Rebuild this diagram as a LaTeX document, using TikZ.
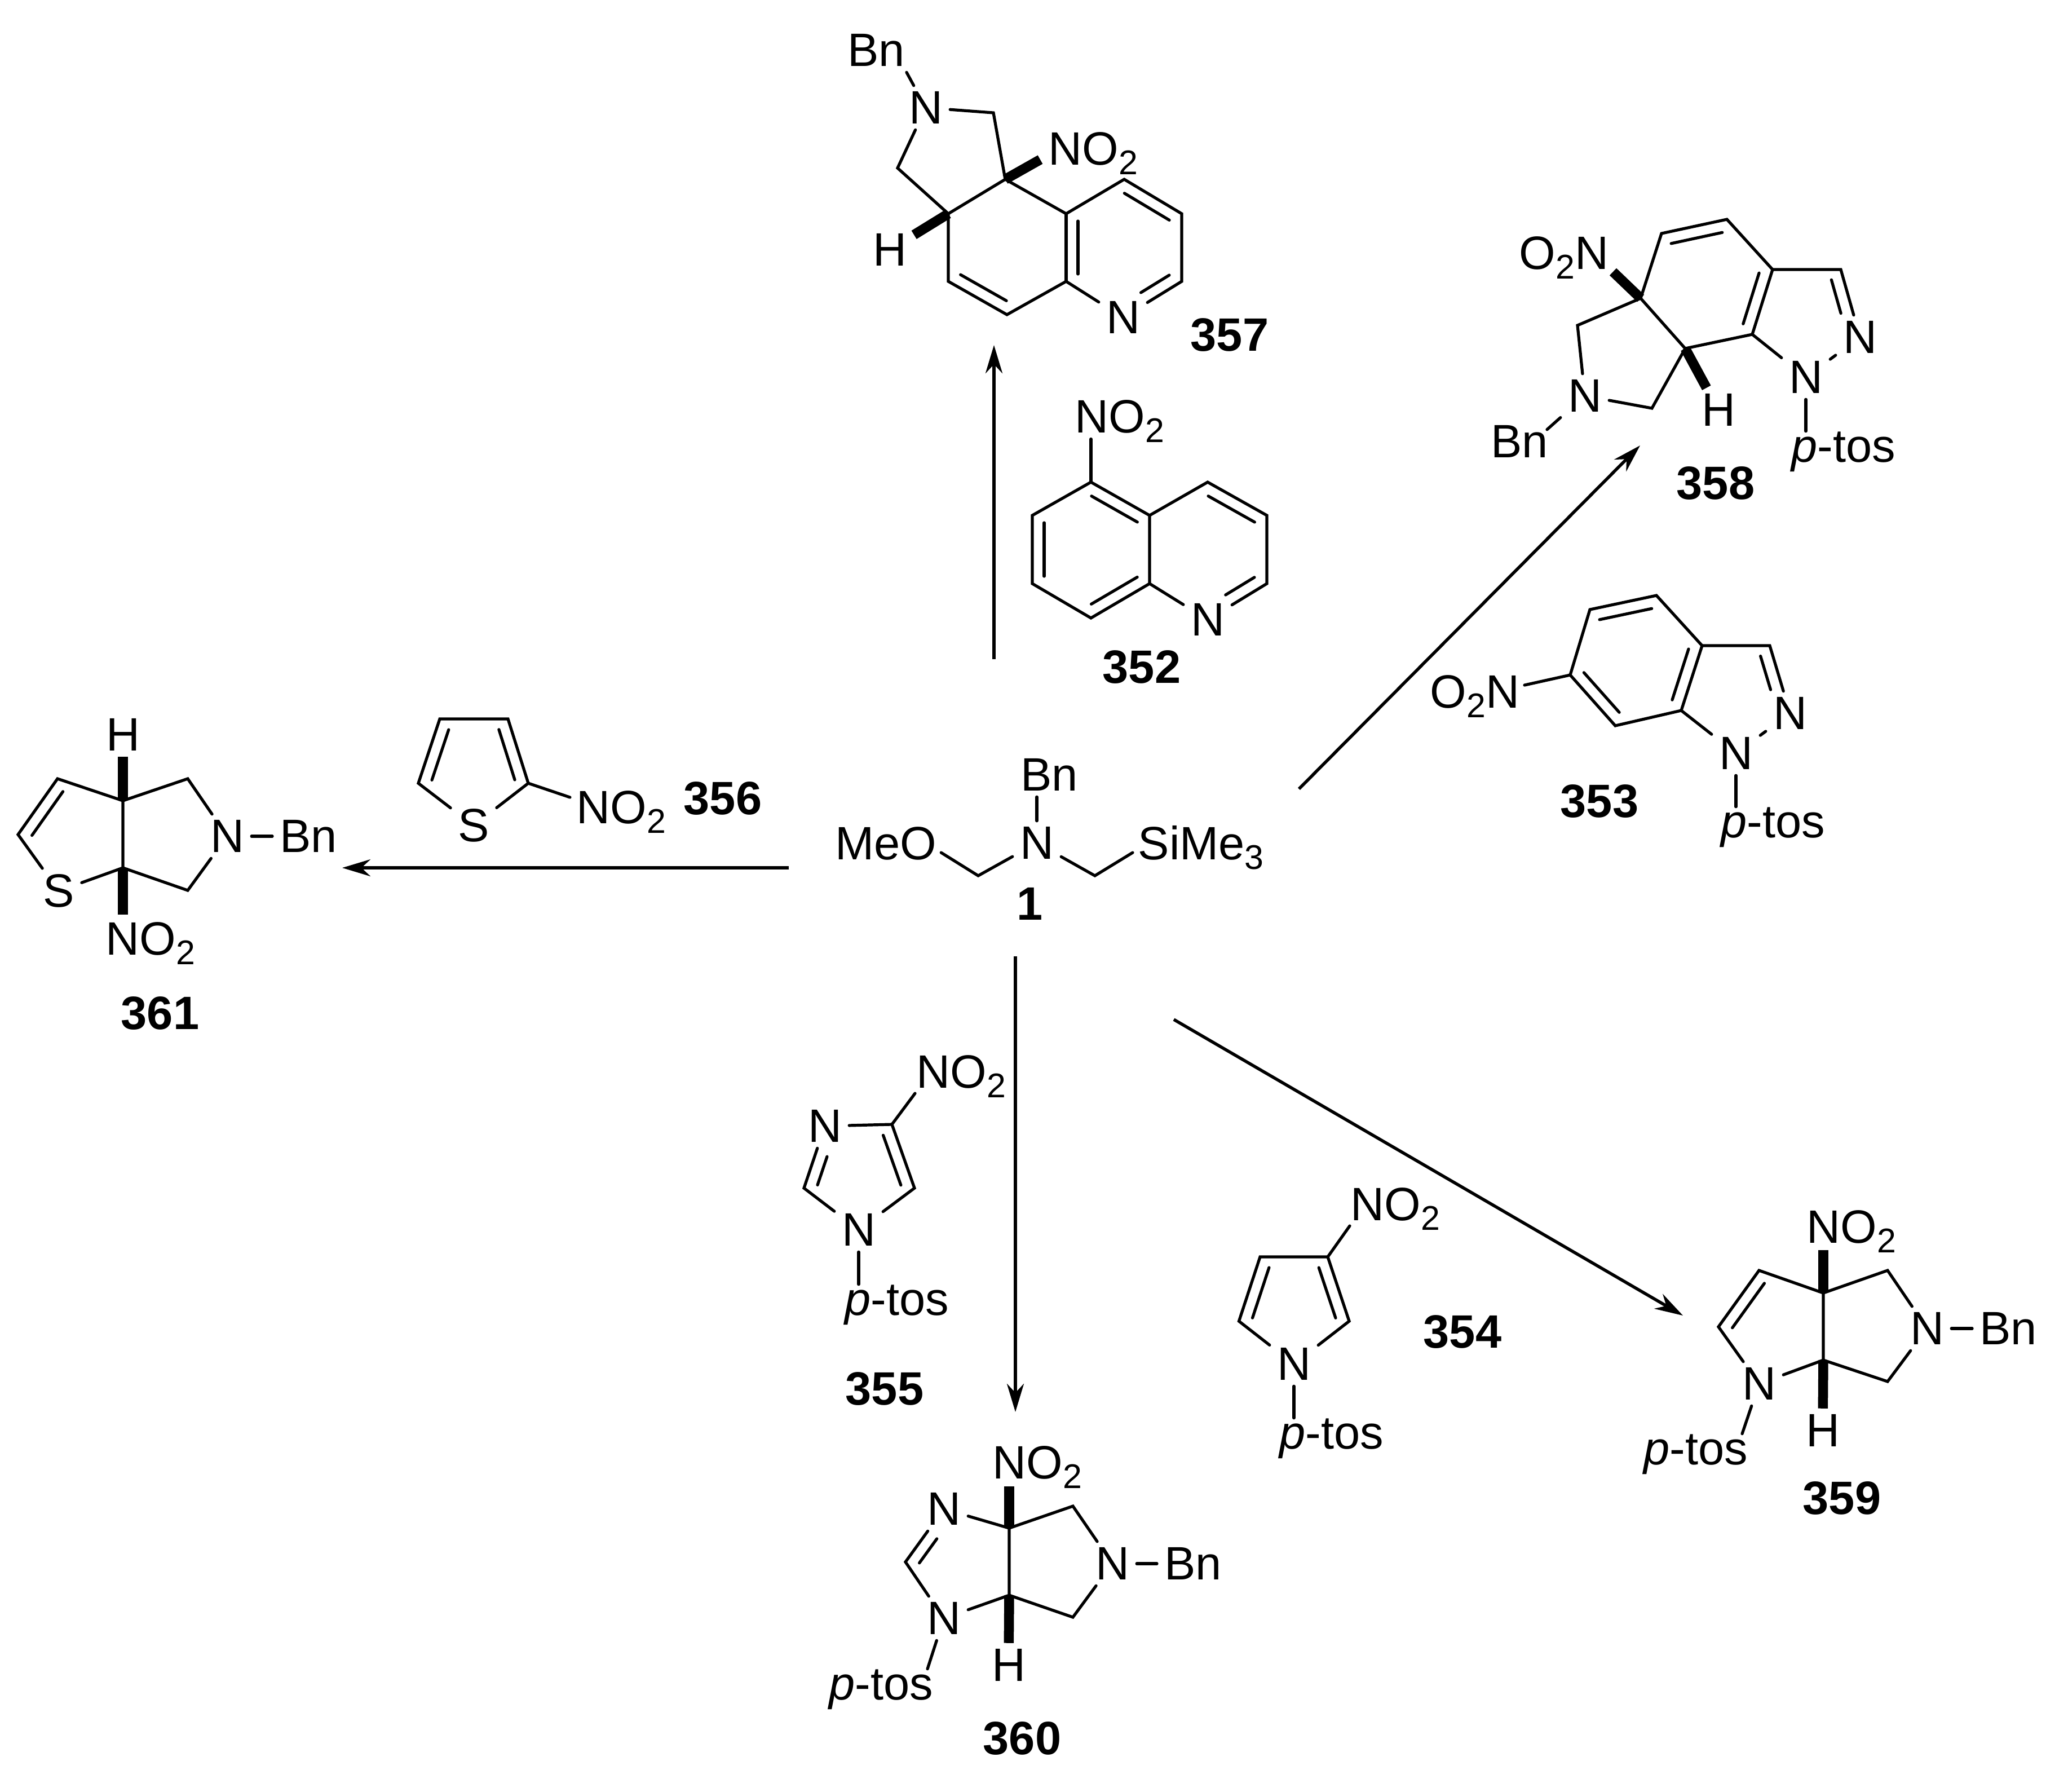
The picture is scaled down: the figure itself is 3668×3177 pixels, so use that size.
\documentclass[tikz,border=0pt]{standalone}
\usepackage{fontspec}
\setmainfont{Liberation Sans}
\usetikzlibrary{arrows.meta, calc}

\newcommand{\subscr}[1]{\raisebox{-0.17cm}{\fontsize{17.3}{20}\selectfont #1}}
\newcommand{\ptos}{\textit{p}-tos}
% Second line of a double bond, on the left of the direction #2 to #3
\newcommand{\innerbond}[3][]{\draw[innerline, #1] ($(#2)!0.21cm!90:(#3)$) -- ($(#3)!0.21cm!-90:(#2)$);}

\begin{document}
\begin{tikzpicture}[
    x=0.01cm, y=-0.01cm, % Coordinates in pixels of the scheme
    every node/.style={font=\fontsize{23.6}{28}\selectfont},
    % Styles
    atom/.style={ % Single label in a ring or chain
        inner xsep=0.125cm,
        inner ysep=0.1cm
    },
    subst/.style={ % Longer label, placed on its baseline
        inner sep=0pt,
        anchor=base west
    },
    compound/.style={ % Compound number
        inner sep=0pt,
        font=\fontsize{23.6}{28}\selectfont\bfseries
    },
    bond/.style={
        line width=0.052cm,
        line cap=round,
        line join=miter
    },
    innerline/.style={
        bond,
        shorten <=0.13cm,
        shorten >=0.13cm
    },
    solidbond/.style={ % Bold stereo bond
        line width=0.175cm
    },
    arrow/.style={
        -{Stealth[length=0.5cm,width=0.3cm,inset=0.16cm]},
        line width=0.055cm
    }
]
    \useasboundingbox (0,0) rectangle (3668,3177);

    % Reagent 1
    \node[atom] (n1) at (1839,1495) {N};
    \node[atom] (bn1) at (1861,1374) {Bn};
    \node[subst] (meo1) at (1481,1524) {MeO};
    \node[subst] (si1) at (2018,1524) {SiMe\subscr{3}};
    \node[compound] (l1) at (1827,1603) {1};
    \coordinate (a1) at (1735,1553);
    \coordinate (b1) at (1942,1553);
    \draw[bond] ([shift={(7,-12)}]meo1.base east) -- (a1) -- (n1) -- (b1) -- ([shift={(-9,-12)}]si1.base west);
    \draw[bond] (n1) -- (n1 |- bn1.south);

    % Reaction arrows
    \coordinate (s357) at (1763,1169);
    \coordinate (e357) at (1763,612);
    \coordinate (s358) at (2304,1399);
    \coordinate (e358) at (2909,790);
    \coordinate (s359) at (2082,1808);
    \coordinate (e359) at (2985,2333);
    \coordinate (s360) at (1801,1696);
    \coordinate (e360) at (1801,2504);
    \coordinate (s361) at (1399,1539);
    \coordinate (e361) at (607,1539);
    \draw[arrow] (s357) -- (e357);
    \draw[arrow] (s358) -- (e358);
    \draw[arrow] (s359) -- (e359);
    \draw[arrow] (s360) -- (e360);
    \draw[arrow] (s361) -- (e361);

    % Nitroquinoline 352
    \node[subst] (no352) at (1906,767.5) {NO\subscr{2}};
    \node[atom] (n352) at (2142,1099) {N};
    \node[compound] (l352) at (2025,1183) {352};
    \coordinate (a352) at (1935,855);
    \coordinate (b352) at (1831,914);
    \coordinate (c352) at (1831,1035);
    \coordinate (d352) at (1935,1096);
    \coordinate (f352) at (2039,1035);
    \coordinate (g352) at (2039,914);
    \coordinate (i352) at (2142,855);
    \coordinate (j352) at (2247,914);
    \coordinate (k352) at (2247,1035);
    \draw[bond] (a352) -- (b352) -- (c352) -- (d352) -- (f352) -- (g352) -- cycle;
    \draw[bond] (g352) -- (i352) -- (j352) -- (k352) -- (n352) -- (f352);
    \draw[bond] (a352) -- ([shift={(29,11)}]no352.base west);
    \innerbond{b352}{c352}
    \innerbond{d352}{f352}
    \innerbond{g352}{a352}
    \innerbond[shorten <=0.5cm]{n352}{k352}
    \innerbond{j352}{i352}

    % Product 357
    \node[atom] (n357) at (1642,191) {N};
    \node[atom] (bn357) at (1554,89) {Bn};
    \node[atom] (h357) at (1578,443) {H};
    \node[subst] (no357) at (1859,292) {NO\subscr{2}};
    \node[atom] (m357) at (1992,563) {N};
    \node[compound] (l357) at (2181,594) {357};
    \coordinate (a357) at (1762,200);
    \coordinate (b357) at (1783,318);
    \coordinate (c357) at (1592,298);
    \coordinate (d357) at (1682,379);
    \coordinate (f357) at (1891,379);
    \coordinate (g357) at (1994,318);
    \coordinate (i357) at (2096,379);
    \coordinate (j357) at (2096,499);
    \coordinate (k357) at (1891,499);
    \coordinate (o357) at (1786,558);
    \coordinate (p357) at (1682,499);
    \draw[bond] (n357) -- (a357) -- (b357) -- (d357) -- (c357) -- (n357);
    \draw[bond] (b357) -- (f357) -- (g357) -- (i357) -- (j357) -- (m357) -- (k357) -- (o357) -- (p357) -- (d357);
    \draw[bond] (f357) -- (k357);
    \draw[bond] ([xshift=-0.1cm]bn357.south east) -- (n357);
    \draw[solidbond] (b357) -- ([shift={(-14,-9)}]no357.base west);
    \draw[solidbond] (d357) -- (h357);
    \innerbond{i357}{g357}
    \innerbond{f357}{k357}
    \innerbond[shorten <=0.5cm]{m357}{j357}
    \innerbond{p357}{o357}

    % Nitroindazole 353
    \node[subst, anchor=base east] (no353) at (2696,1255) {O\subscr{2}N};
    \node[atom] (n353) at (3175,1265) {N};
    \node[atom] (m353) at (3079,1336) {N};
    \node[subst, anchor=base] (t353) at (3145,1485) {\ptos};
    \node[compound] (l353) at (2837,1421) {353};
    \coordinate (a353) at (2785,1197);
    \coordinate (b353) at (2820,1081);
    \coordinate (c353) at (2938,1056);
    \coordinate (d353) at (3019,1145);
    \coordinate (f353) at (3139,1145);
    \coordinate (g353) at (2982,1260);
    \coordinate (i353) at (2865,1287);
    \draw[bond] (a353) -- (b353) -- (c353) -- (d353) -- (g353) -- (i353) -- cycle;
    \draw[bond] (d353) -- (f353) -- (n353) -- (m353) -- (g353);
    \draw[bond] (m353) -- (m353 |- t353.north);
    \draw[bond] (a353) -- ([shift={(8,-40)}]no353.base east);
    \innerbond{c353}{b353}
    \innerbond{g353}{d353}
    \innerbond{a353}{i353}
    \innerbond[shorten <=0.5cm]{n353}{f353}

    % Product 358
    \node[atom] (n358) at (3299,598) {N};
    \node[atom] (m358) at (3203,669) {N};
    \node[atom] (o358) at (2811,702) {N};
    \node[atom] (bn358) at (2695,783) {Bn};
    \node[atom] (h358) at (3048,727) {H};
    \node[subst, anchor=base east] (no358) at (2854,477) {O\subscr{2}N};
    \node[subst, anchor=base] (t358) at (3270,819) {\ptos};
    \node[compound] (l358) at (3043,857) {358};
    \coordinate (a358) at (2910,529);
    \coordinate (b358) at (2947,414);
    \coordinate (c358) at (3063,389);
    \coordinate (d358) at (3144,478);
    \coordinate (f358) at (3265,478);
    \coordinate (g358) at (3108,593);
    \coordinate (i358) at (2989,618);
    \coordinate (j358) at (2930,724);
    \coordinate (k358) at (2798,577);
    \draw[bond] (a358) -- (b358) -- (c358) -- (d358) -- (g358) -- (i358) -- cycle;
    \draw[bond] (d358) -- (f358) -- (n358) -- (m358) -- (g358);
    \draw[bond] (i358) -- (j358) -- (o358) -- (k358) -- (a358);
    \draw[bond] (m358) -- (m358 |- t358.north);
    \draw[bond] (o358) -- ([shift={(-15,18)}]bn358.north east);
    \draw[solidbond] (a358) -- ([shift={(7,5)}]no358.base east);
    \draw[solidbond] (i358) -- (h358);
    \innerbond{c358}{b358}
    \innerbond{g358}{d358}
    \innerbond[shorten <=0.5cm]{n358}{f358}

    % Nitropyrrole 354
    \node[subst] (no354) at (2395,2164) {NO\subscr{2}};
    \node[atom] (n354) at (2295,2419) {N};
    \node[subst, anchor=base] (t354) at (2362,2569) {\ptos};
    \node[compound] (l354) at (2594,2362) {354};
    \coordinate (a354) at (2355,2229);
    \coordinate (b354) at (2235,2229);
    \coordinate (c354) at (2197.5,2343);
    \coordinate (d354) at (2393,2343);
    \draw[bond] (a354) -- (b354) -- (c354) -- (n354) -- (d354) -- (a354);
    \draw[bond] (a354) -- ([shift={(-1,10)}]no354.base west);
    \draw[bond] (n354) -- (n354 |- t354.north);
    \innerbond{b354}{c354}
    \innerbond{d354}{a354}

    % Product 359
    \node[subst] (no359) at (3204,2204) {NO\subscr{2}};
    \node[atom] (h359) at (3233,2537) {H};
    \node[atom] (n359) at (3120,2454) {N};
    \node[atom] (m359) at (3418,2356) {N};
    \node[atom] (bn359) at (3562,2356) {Bn};
    \node[subst, anchor=base] (t359) at (3008,2597) {\ptos};
    \node[compound] (l359) at (3267,2657) {359};
    \coordinate (a359) at (3234,2293);
    \coordinate (b359) at (3234,2412);
    \coordinate (c359) at (3120,2253);
    \coordinate (d359) at (3048,2353);
    \coordinate (f359) at (3348,2253);
    \coordinate (g359) at (3348,2450);
    \draw[bond] (b359) -- (a359) -- (c359) -- (d359) -- (n359) -- (b359);
    \draw[bond] (a359) -- (f359) -- (m359) -- (g359) -- (b359);
    \draw[bond] (m359) -- (bn359);
    \draw[bond] (n359) -- ([xshift=0.82cm]t359.north);
    \draw[solidbond] (a359) -- ([shift={(30,13)}]no359.base west);
    \draw[solidbond] (b359) -- (h359);
    \innerbond{c359}{d359}

    % Nitroimidazole 355
    \node[subst] (no355) at (1625,1929) {NO\subscr{2}};
    \node[atom] (n355) at (1463,1997) {N};
    \node[atom] (m355) at (1523,2181) {N};
    \node[subst, anchor=base] (t355) at (1591,2332) {\ptos};
    \node[compound] (l355) at (1569,2463) {355};
    \coordinate (a355) at (1582,1994);
    \coordinate (b355) at (1426,2107);
    \coordinate (c355) at (1622,2107);
    \draw[bond] (a355) -- (n355) -- (b355) -- (m355) -- (c355) -- (a355);
    \draw[bond] (a355) -- ([shift={(-2,10)}]no355.base west);
    \draw[bond] (m355) -- (m355 |- t355.north);
    \innerbond[shorten <=0.5cm]{n355}{b355}
    \innerbond{c355}{a355}

    % Product 360
    \node[subst] (no360) at (1760,2622) {NO\subscr{2}};
    \node[atom] (h360) at (1789,2953) {H};
    \node[atom] (n360) at (1674,2676) {N};
    \node[atom] (m360) at (1674,2870) {N};
    \node[atom] (o360) at (1973,2773) {N};
    \node[atom] (bn360) at (2116,2773) {Bn};
    \node[subst, anchor=base] (t360) at (1563,3014) {\ptos};
    \node[compound] (l360) at (1813,3083) {360};
    \coordinate (a360) at (1790,2710);
    \coordinate (b360) at (1790,2829);
    \coordinate (c360) at (1606,2770);
    \coordinate (d360) at (1903,2671);
    \coordinate (f360) at (1903,2868);
    \draw[bond] (a360) -- (n360) -- (c360) -- (m360) -- (b360) -- (a360);
    \draw[bond] (a360) -- (d360) -- (o360) -- (f360) -- (b360);
    \draw[bond] (o360) -- (bn360);
    \draw[bond] (m360) -- ([xshift=0.82cm]t360.north);
    \draw[solidbond] (a360) -- ([shift={(30,14)}]no360.base west);
    \draw[solidbond] (b360) -- (h360);
    \innerbond[shorten <=0.5cm]{n360}{c360}

    % Nitrothiophene 356
    \node[atom] (s356) at (840,1464) {S};
    \node[subst] (no356) at (1022,1460) {NO\subscr{2}};
    \node[compound] (l356) at (1282,1416) {356};
    \coordinate (a356) at (780,1275);
    \coordinate (b356) at (901,1275);
    \coordinate (c356) at (937,1389);
    \coordinate (d356) at (742,1389);
    \draw[bond] (s356) -- (d356) -- (a356) -- (b356) -- (c356) -- (s356);
    \draw[bond] (c356) -- ([shift={(-11,-46)}]no356.base west);
    \innerbond{a356}{d356}
    \innerbond{c356}{b356}

    % Product 361
    \node[atom] (h361) at (218,1303) {H};
    \node[subst] (no361) at (187,1693) {NO\subscr{2}};
    \node[atom] (s361) at (104,1580) {S};
    \node[atom] (n361) at (403,1483) {N};
    \node[atom] (bn361) at (547,1483) {Bn};
    \node[compound] (l361) at (284,1797) {361};
    \coordinate (a361) at (218,1420);
    \coordinate (b361) at (218,1539);
    \coordinate (c361) at (102,1381);
    \coordinate (d361) at (32,1480);
    \coordinate (f361) at (333,1381);
    \coordinate (g361) at (333,1579);
    \draw[bond] (b361) -- (a361) -- (c361) -- (d361) -- (s361) -- (b361);
    \draw[bond] (a361) -- (f361) -- (n361) -- (g361) -- (b361);
    \draw[bond] (n361) -- (bn361);
    \draw[solidbond] (a361) -- (h361);
    \draw[solidbond] (b361) -- ([shift={(31,-71)}]no361.base west);
    \innerbond{c361}{d361}
\end{tikzpicture}
\end{document}
